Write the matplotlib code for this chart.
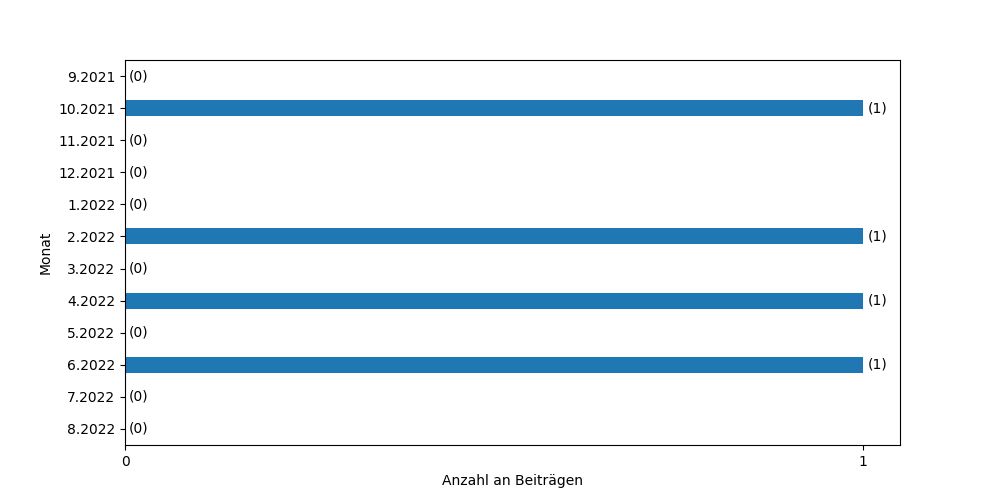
import matplotlib
matplotlib.use("Agg")
import matplotlib.pyplot as plt

months = ["9.2021", "10.2021", "11.2021", "12.2021", "1.2022", "2.2022",
          "3.2022", "4.2022", "5.2022", "6.2022", "7.2022", "8.2022"]
counts = [0, 1, 0, 0, 0, 1, 0, 1, 0, 1, 0, 0]

fig, ax = plt.subplots(figsize=(10, 5), dpi=100)
pos = list(range(len(months)))
bars = ax.barh(pos, counts, height=0.5, color="#1f77b4")
ax.bar_label(bars, labels=[f"({c})" for c in counts], padding=3)
ax.set_yticks(pos)
ax.set_yticklabels(months)
ax.set_ylim(len(months) - 0.5, -0.5)
ax.set_xticks([0, 1])
ax.set_xlabel("Anzahl an Beiträgen")
ax.set_ylabel("Monat")
fig.savefig("out.png")
